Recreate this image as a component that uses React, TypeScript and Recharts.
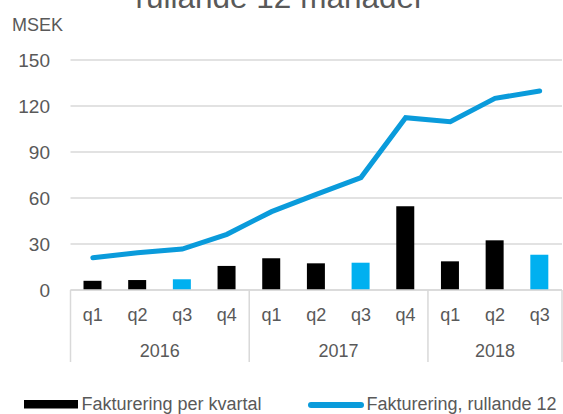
import React from 'react';
import { ComposedChart, Bar, Line, XAxis, YAxis, CartesianGrid, Cell, Customized } from 'recharts';

const quarters = ['q1', 'q2', 'q3', 'q4', 'q1', 'q2', 'q3', 'q4', 'q1', 'q2', 'q3'];
const years = ['2016', '2016', '2016', '2016', '2017', '2017', '2017', '2017', '2018', '2018', '2018'];
const perKvartal = [6, 6.5, 7, 15.7, 20.7, 17.4, 17.8, 54.6, 18.7, 32.4, 23];
const rullande = [21.1, 24.3, 26.7, 36.3, 51.1, 62.4, 73.3, 112.4, 109.8, 125, 129.8];
const yTicks = [0, 30, 60, 90, 120, 150];

const titleText = 'rullande 12 månader';
const unitText = 'MSEK';
const legendBar = 'Fakturering per kvartal';
const legendLine = 'Fakturering, rullande 12';

const data = quarters.map((q, i) => ({
  key: `${years[i]}-${q}`,
  q,
  year: years[i],
  kvartal: perKvartal[i],
  rullande: rullande[i],
}));

const W = 563;
const H = 414;
const PLOT_LEFT = 70.5;
const PLOT_RIGHT = 562;
const BAND = (PLOT_RIGHT - PLOT_LEFT) / data.length;
const TEXT = '#595959';
const FONT = '"Liberation Sans", Arial, Helvetica, sans-serif';
const LINE_COLOR = '#0a9bdb';
const BAR_BLUE = '#00b0f0';
const AXIS_GRAY = '#d9d9d9';

const XTick = (props: any) => {
  const { x, y, index } = props;
  const d = data[index];
  if (!d) return null;
  const isFirst = index === 0 || data[index - 1].year !== d.year;
  const isLast = index === data.length - 1;
  let yearLabel = null;
  if (isFirst) {
    const count = data.filter((e) => e.year === d.year).length;
    yearLabel = (
      <text x={x + ((count - 1) / 2) * BAND} y={y + 66.5} textAnchor="middle" fontSize={18} fill={TEXT} fontFamily={FONT}>
        {d.year}
      </text>
    );
  }
  return (
    <g>
      <text x={x} y={y + 31} textAnchor="middle" fontSize={18} fill={TEXT} fontFamily={FONT}>
        {d.q}
      </text>
      {yearLabel}
      {isFirst && <line x1={x - BAND / 2} x2={x - BAND / 2} y1={y} y2={y + 72} stroke={AXIS_GRAY} strokeWidth={1.5} />}
      {isLast && <line x1={x + BAND / 2} x2={x + BAND / 2} y1={y} y2={y + 72} stroke={AXIS_GRAY} strokeWidth={1.5} />}
    </g>
  );
};

const YTick = (props: any) => {
  const { y, payload } = props;
  return (
    <text x={50} y={y} dy={6.8} textAnchor="end" fontSize={19} fill={TEXT} fontFamily={FONT}>
      {payload.value}
    </text>
  );
};

const Decor = () => (
  <g fontFamily={FONT}>
    <text x={280} y={7.5} textAnchor="middle" fontSize={31.5} fill={TEXT}>
      {titleText}
    </text>
    <text x={12} y={31} fontSize={18} fill={TEXT}>
      {unitText}
    </text>
    <rect x={24} y={400} width={54} height={8.5} fill="#000000" />
    <text x={81.5} y={410} fontSize={18} fill={TEXT}>
      {legendBar}
    </text>
    <line x1={311} x2={361} y1={405} y2={405} stroke={LINE_COLOR} strokeWidth={6} strokeLinecap="round" />
    <text x={366.5} y={410} fontSize={18} fill={TEXT}>
      {legendLine}
    </text>
  </g>
);

export default function App() {
  return (
    <div style={{ position: 'absolute', left: 0, top: 0, width: W, height: H, background: '#fff' }}>
      <ComposedChart
        width={W}
        height={H}
        data={data}
        margin={{ top: 60, right: W - PLOT_RIGHT, bottom: 0, left: 0 }}
      >
        <CartesianGrid vertical={false} stroke={AXIS_GRAY} strokeWidth={1.5} />
        <XAxis
          dataKey="key"
          interval={0}
          height={124}
          axisLine={{ stroke: AXIS_GRAY, strokeWidth: 1.5 }}
          tickLine={false}
          tickSize={0}
          tickMargin={0}
          tick={<XTick />}
        />
        <YAxis
          width={PLOT_LEFT}
          domain={[0, 150]}
          ticks={yTicks}
          interval={0}
          axisLine={false}
          tickLine={false}
          tick={<YTick />}
        />
        <Bar dataKey="kvartal" barSize={18} isAnimationActive={false}>
          {data.map((d) => (
            <Cell key={d.key} fill={d.q === 'q3' ? BAR_BLUE : '#000000'} />
          ))}
        </Bar>
        <Line
          type="linear"
          dataKey="rullande"
          stroke={LINE_COLOR}
          strokeWidth={5}
          strokeLinecap="round"
          dot={false}
          activeDot={false}
          isAnimationActive={false}
        />
        <Customized component={<Decor />} />
      </ComposedChart>
    </div>
  );
}
